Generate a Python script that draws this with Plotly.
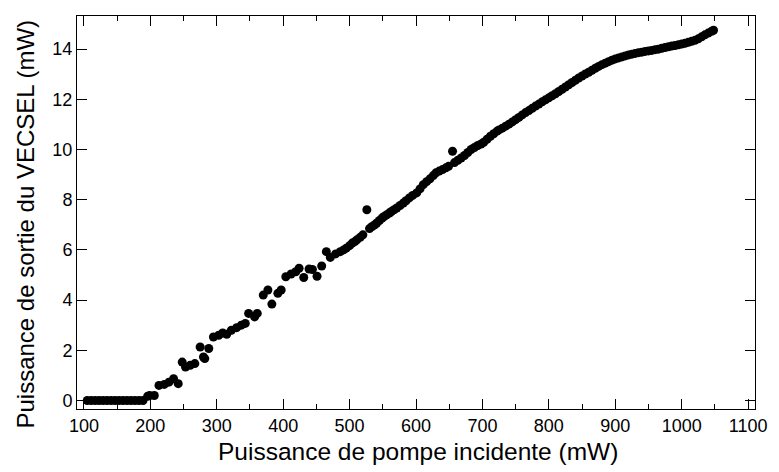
import plotly.graph_objects as go

# Incident pump power (mW) and VECSEL output power (mW)
pump_mw = [
    105, 111, 117, 123, 129, 135, 141, 147, 153, 159, 165, 171, 177, 183, 189,
    196, 199, 206, 213, 221, 228, 235, 242, 248, 253, 260, 267, 275, 280, 282,
    288, 295, 303, 309, 315, 322, 330, 337, 343, 348, 357, 361, 370, 377, 383,
    392, 397, 404, 412, 419, 424, 431, 439, 444, 451, 458, 465, 471, 479, 486,
    491, 495, 500, 504, 508, 511, 516, 520, 526, 530, 534, 538, 541, 545, 549,
    552, 556, 560, 563, 567, 571, 576, 581, 585, 590, 595, 601, 606, 611, 616,
    621, 626, 630, 635, 640, 645, 649, 655, 658, 663, 668, 673, 678, 683, 688,
    693, 698, 702, 707, 712, 717, 722, 725, 730, 735, 740, 745, 750, 755, 760,
    765, 770, 775, 780, 785, 790, 795, 800, 805, 810, 815, 820, 825, 830, 835,
    840, 845, 850, 855, 860, 865, 870, 875, 880, 885, 890, 895, 900, 905, 910,
    915, 920, 925, 930, 935, 940, 945, 950, 955, 960, 965, 970, 975, 980, 985,
    990, 995, 1000, 1005, 1010, 1015, 1020, 1025, 1030, 1035, 1040, 1045, 1048,
]
output_mw = [
    0.0, 0.0, 0.0, 0.0, 0.0, 0.0, 0.0, 0.0, 0.0, 0.0, 0.0, 0.0, 0.0, 0.0, 0.0,
    0.17, 0.2, 0.2, 0.6, 0.64, 0.73, 0.87, 0.67, 1.53, 1.33, 1.4, 1.47, 2.13, 1.73, 1.67,
    2.07, 2.53, 2.6, 2.69, 2.64, 2.8, 2.9, 3.0, 3.07, 3.47, 3.33, 3.47, 4.2, 4.4, 3.84,
    4.27, 4.4, 4.93, 5.04, 5.13, 5.27, 4.9, 5.24, 5.22, 4.95, 5.36, 5.93, 5.7, 5.84, 5.93,
    6.0, 6.07, 6.17, 6.27, 6.33, 6.4, 6.5, 6.6, 7.6, 6.85, 6.93, 7.0, 7.07, 7.17, 7.27,
    7.33, 7.4, 7.47, 7.53, 7.6, 7.67, 7.77, 7.87, 7.96, 8.07, 8.17, 8.27, 8.43, 8.6, 8.72,
    8.83, 8.96, 9.07, 9.14, 9.2, 9.27, 9.33, 9.93, 9.48, 9.57, 9.66, 9.76, 9.88, 10.0, 10.08,
    10.16, 10.22, 10.29, 10.41, 10.53, 10.63, 10.73, 10.78, 10.85, 10.93, 11.01, 11.1, 11.19, 11.28, 11.38,
    11.47, 11.55, 11.64, 11.73, 11.81, 11.9, 11.98, 12.06, 12.14, 12.22, 12.31, 12.4, 12.49, 12.58, 12.67,
    12.76, 12.85, 12.93, 13.01, 13.08, 13.16, 13.24, 13.31, 13.38, 13.44, 13.5, 13.56, 13.61, 13.65, 13.69,
    13.73, 13.77, 13.8, 13.83, 13.86, 13.88, 13.91, 13.93, 13.95, 13.98, 14.0, 14.03, 14.06, 14.09, 14.12,
    14.14, 14.17, 14.2, 14.23, 14.27, 14.31, 14.35, 14.41, 14.49, 14.57, 14.64, 14.71, 14.75,
]

x_ticks = [100, 200, 300, 400, 500, 600, 700, 800, 900, 1000, 1100]
y_ticks = [0, 2, 4, 6, 8, 10, 12, 14]

FONT = "Arial, Liberation Sans, sans-serif"

fig = go.Figure(
    go.Scatter(
        x=pump_mw,
        y=output_mw,
        mode="markers",
        marker=dict(color="black", size=9, line=dict(width=0)),
        hoverinfo="x+y",
    )
)

axis_common = dict(
    showline=True,
    linecolor="black",
    linewidth=1,
    mirror="allticks",
    ticks="inside",
    tickcolor="black",
    tickwidth=1,
    ticklen=10,
    showgrid=False,
    zeroline=False,
    tickfont=dict(family=FONT, size=18, color="black"),
)

fig.update_xaxes(
    **axis_common,
    range=[89.6, 1110.4],
    tickvals=x_ticks,
    minor=dict(dtick=50, tick0=0, ticks="inside", ticklen=5, tickcolor="black", showgrid=False),
)
fig.update_yaxes(
    **axis_common,
    range=[-0.34, 15.32],
    tickvals=y_ticks,
)

# Axis titles placed as annotations
fig.add_annotation(
    text="Puissance de pompe incidente (mW)",
    xref="paper", yref="paper",
    x=0.5036, y=-0.1069,
    xanchor="center", yanchor="middle",
    showarrow=False,
    font=dict(family=FONT, size=24.5, color="black"),
)
fig.add_annotation(
    text="Puissance de sortie du VECSEL (mW)",
    xref="paper", yref="paper",
    x=-0.0774, y=0.4707,
    xanchor="center", yanchor="middle",
    textangle=-90,
    showarrow=False,
    font=dict(family=FONT, size=24, color="black"),
)

fig.update_layout(
    width=779,
    height=472,
    margin=dict(l=77, r=17, t=16, b=63),
    plot_bgcolor="white",
    paper_bgcolor="white",
    showlegend=False,
)

fig.write_html("out.html")
